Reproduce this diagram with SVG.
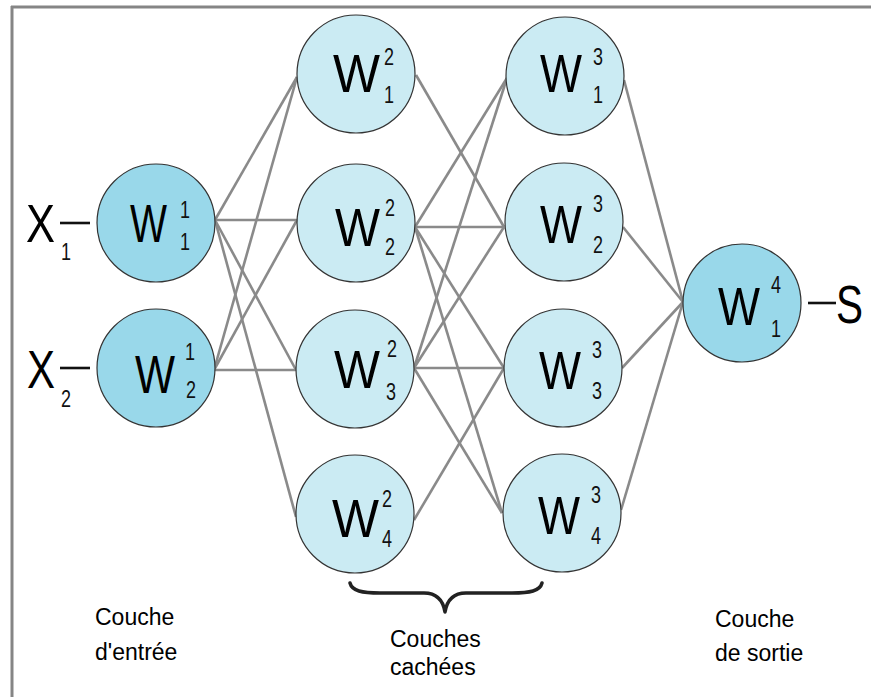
<svg xmlns="http://www.w3.org/2000/svg" width="871" height="697" viewBox="0 0 871 697">
<style>
.frame{stroke:#858585;stroke-width:3;fill:none}
.edge{stroke:#8a8a8a;stroke-width:2.6;fill:none}
.io{stroke:#111;stroke-width:2.6;fill:none}
.n1{fill:#99d8ea;stroke:#333;stroke-width:1.2}
.n2{fill:#cbebf3;stroke:#333;stroke-width:1.2}
.w{font-family:"Liberation Sans",Arial,sans-serif;font-size:54px;fill:#000}
.d{font-family:"Liberation Sans",Arial,sans-serif;font-size:23px;fill:#111}
.lbl{font-family:"Liberation Sans",Arial,sans-serif;font-size:23px;fill:#000}
</style>
<rect width="871" height="697" fill="#fff"/>
<g id="frame">
<line class="frame" x1="11" y1="7" x2="871" y2="7"/>
<line class="frame" x1="12" y1="6" x2="12" y2="697"/>
</g>
<g id="connectors">
<line class="io" x1="60" y1="223" x2="90" y2="223"/>
<line class="io" x1="60" y1="368" x2="90" y2="368"/>
<line class="io" x1="808" y1="303" x2="836" y2="303"/>
<line class="edge" x1="215" y1="220" x2="297" y2="77"/>
<line class="edge" x1="215" y1="220" x2="297" y2="220"/>
<line class="edge" x1="215" y1="220" x2="296" y2="370"/>
<line class="edge" x1="215" y1="220" x2="296" y2="517"/>
<line class="edge" x1="214" y1="370" x2="297" y2="77"/>
<line class="edge" x1="214" y1="370" x2="297" y2="220"/>
<line class="edge" x1="214" y1="370" x2="296" y2="370"/>
<line class="edge" x1="416" y1="75" x2="504" y2="227"/>
<line class="edge" x1="415" y1="227" x2="507" y2="78"/>
<line class="edge" x1="415" y1="227" x2="504" y2="227"/>
<line class="edge" x1="415" y1="227" x2="504" y2="368"/>
<line class="edge" x1="415" y1="227" x2="502" y2="513"/>
<line class="edge" x1="414" y1="368" x2="507" y2="78"/>
<line class="edge" x1="414" y1="368" x2="504" y2="227"/>
<line class="edge" x1="414" y1="368" x2="504" y2="368"/>
<line class="edge" x1="414" y1="368" x2="502" y2="513"/>
<line class="edge" x1="414" y1="520" x2="504" y2="368"/>
<line class="edge" x1="624" y1="80" x2="683" y2="302"/>
<line class="edge" x1="623" y1="227" x2="683" y2="302"/>
<line class="edge" x1="622" y1="368" x2="683" y2="302"/>
<line class="edge" x1="621" y1="510" x2="683" y2="302"/>
</g>
<g id="x1"><text class="w" x="26" y="242" textLength="29" lengthAdjust="spacingAndGlyphs">X</text><text class="d" x="61" y="260" textLength="10" lengthAdjust="spacingAndGlyphs">1</text></g>
<g id="x2"><text class="w" x="27" y="388" textLength="28" lengthAdjust="spacingAndGlyphs">X</text><text class="d" x="61" y="407" textLength="10" lengthAdjust="spacingAndGlyphs">2</text></g>
<g id="s"><text class="w" x="836" y="323" textLength="27" lengthAdjust="spacingAndGlyphs">S</text></g>
<g id="w1_1"><circle class="n1" cx="156" cy="223" r="59"/><text class="w" x="130" y="242" textLength="37" lengthAdjust="spacingAndGlyphs">W</text><text class="d" x="180" y="218" textLength="10" lengthAdjust="spacingAndGlyphs">1</text><text class="d" x="180" y="250" textLength="10" lengthAdjust="spacingAndGlyphs">1</text></g>
<g id="w1_2"><circle class="n1" cx="156" cy="368" r="59"/><text class="w" x="135" y="393" textLength="40" lengthAdjust="spacingAndGlyphs">W</text><text class="d" x="185" y="360" textLength="10" lengthAdjust="spacingAndGlyphs">1</text><text class="d" x="186" y="398" textLength="10" lengthAdjust="spacingAndGlyphs">2</text></g>
<g id="w2_1"><circle class="n2" cx="356" cy="74" r="59"/><text class="w" x="333" y="92" textLength="47" lengthAdjust="spacingAndGlyphs">W</text><text class="d" x="384" y="65" textLength="10" lengthAdjust="spacingAndGlyphs">2</text><text class="d" x="384" y="103" textLength="10" lengthAdjust="spacingAndGlyphs">1</text></g>
<g id="w2_2"><circle class="n2" cx="356" cy="223" r="59"/><text class="w" x="335" y="246" textLength="45" lengthAdjust="spacingAndGlyphs">W</text><text class="d" x="385" y="216" textLength="10" lengthAdjust="spacingAndGlyphs">2</text><text class="d" x="385" y="255" textLength="10" lengthAdjust="spacingAndGlyphs">2</text></g>
<g id="w2_3"><circle class="n2" cx="355" cy="369" r="59"/><text class="w" x="334" y="388" textLength="46" lengthAdjust="spacingAndGlyphs">W</text><text class="d" x="387" y="357" textLength="10" lengthAdjust="spacingAndGlyphs">2</text><text class="d" x="386" y="400" textLength="10" lengthAdjust="spacingAndGlyphs">3</text></g>
<g id="w2_4"><circle class="n2" cx="355" cy="514" r="59"/><text class="w" x="332" y="537" textLength="47" lengthAdjust="spacingAndGlyphs">W</text><text class="d" x="382" y="507" textLength="10" lengthAdjust="spacingAndGlyphs">2</text><text class="d" x="382" y="547" textLength="10" lengthAdjust="spacingAndGlyphs">4</text></g>
<g id="w3_1"><circle class="n2" cx="565" cy="76" r="59"/><text class="w" x="540" y="92" textLength="42" lengthAdjust="spacingAndGlyphs">W</text><text class="d" x="593" y="65" textLength="10" lengthAdjust="spacingAndGlyphs">3</text><text class="d" x="593" y="103" textLength="10" lengthAdjust="spacingAndGlyphs">1</text></g>
<g id="w3_2"><circle class="n2" cx="564" cy="222" r="59"/><text class="w" x="540" y="243" textLength="42" lengthAdjust="spacingAndGlyphs">W</text><text class="d" x="593" y="212" textLength="10" lengthAdjust="spacingAndGlyphs">3</text><text class="d" x="593" y="253" textLength="10" lengthAdjust="spacingAndGlyphs">2</text></g>
<g id="w3_3"><circle class="n2" cx="563" cy="368" r="59"/><text class="w" x="539" y="389" textLength="42" lengthAdjust="spacingAndGlyphs">W</text><text class="d" x="592" y="358" textLength="10" lengthAdjust="spacingAndGlyphs">3</text><text class="d" x="592" y="399" textLength="10" lengthAdjust="spacingAndGlyphs">3</text></g>
<g id="w3_4"><circle class="n2" cx="562" cy="513" r="59"/><text class="w" x="538" y="534" textLength="42" lengthAdjust="spacingAndGlyphs">W</text><text class="d" x="591" y="503" textLength="10" lengthAdjust="spacingAndGlyphs">3</text><text class="d" x="591" y="544" textLength="10" lengthAdjust="spacingAndGlyphs">4</text></g>
<g id="w4_1"><circle class="n1" cx="742" cy="303" r="59"/><text class="w" x="718" y="325" textLength="42" lengthAdjust="spacingAndGlyphs">W</text><text class="d" x="771" y="293" textLength="10" lengthAdjust="spacingAndGlyphs">4</text><text class="d" x="771" y="337" textLength="10" lengthAdjust="spacingAndGlyphs">1</text></g>
<g id="brace"><path d="M350,583 C352,591 362,593 380,593 L424,593 C437,593 443,600 445,612 C447,600 453,593 466,593 L512,593 C530,593 540,591 542,583" fill="none" stroke="#222" stroke-width="3.5" stroke-linecap="round" stroke-linejoin="round"/></g>
<g id="labels">
<text class="lbl" x="95" y="625">Couche</text>
<text class="lbl" x="95" y="660">d'entrée</text>
<text class="lbl" x="390" y="647">Couches</text>
<text class="lbl" x="390" y="675">cachées</text>
<text class="lbl" x="715" y="627">Couche</text>
<text class="lbl" x="715" y="661">de sortie</text>
</g>
</svg>
